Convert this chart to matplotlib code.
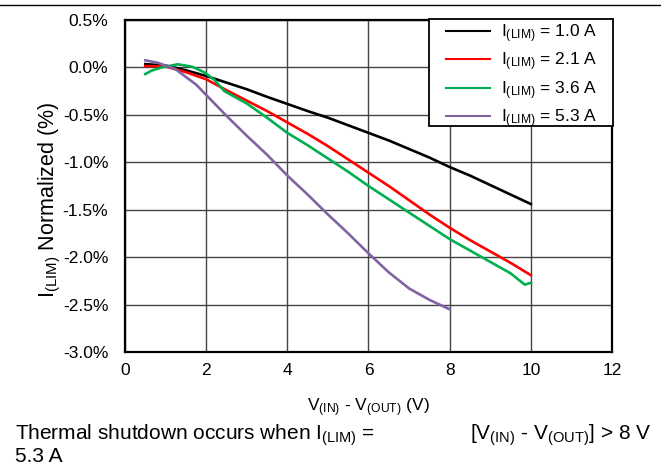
import numpy as np
import matplotlib
matplotlib.use("Agg")
import matplotlib.pyplot as plt
from matplotlib.lines import Line2D
from matplotlib.patches import Rectangle

plt.rcParams['font.family'] = ['Liberation Sans', 'DejaVu Sans']
plt.rcParams['mathtext.fontset'] = 'custom'
plt.rcParams['mathtext.rm'] = 'Liberation Sans'
plt.rcParams['mathtext.default'] = 'regular'

# data
x_1a0 = [0.5, 1.0, 1.5, 2.0, 2.5, 3.0, 3.5, 4.0, 4.5, 5.0, 5.5, 6.0, 6.5, 7.0, 7.5, 8.0, 8.5, 9.0, 9.5, 10.0]
y_1a0 = [0.035, 0.02, -0.03, -0.09, -0.16, -0.23, -0.31, -0.385, -0.46, -0.53, -0.61, -0.69, -0.77, -0.86, -0.95, -1.05, -1.14, -1.24, -1.34, -1.44]

x_2a1 = [0.5, 1.0, 1.5, 2.0, 2.5, 3.0, 3.5, 4.0, 4.5, 5.0, 5.5, 6.0, 6.5, 7.0, 7.5, 8.0, 8.5, 9.0, 9.5, 10.0]
y_2a1 = [0.015, 0.01, -0.05, -0.125, -0.24, -0.35, -0.46, -0.58, -0.70, -0.83, -0.97, -1.11, -1.25, -1.40, -1.55, -1.69, -1.82, -1.94, -2.06, -2.19]

x_3a6 = [0.5, 0.65, 0.9, 1.3, 1.65, 1.95, 2.2, 2.45, 2.7, 3.0, 3.5, 4.0, 4.5, 5.0, 5.5, 6.0, 6.5, 7.0, 7.5, 8.0, 8.5, 9.0, 9.5, 9.85, 10.0]
y_3a6 = [-0.07, -0.035, 0.0, 0.033, 0.008, -0.05, -0.13, -0.25, -0.31, -0.38, -0.53, -0.69, -0.82, -0.96, -1.10, -1.25, -1.39, -1.53, -1.67, -1.81, -1.93, -2.05, -2.17, -2.29, -2.27]

x_5a3 = [0.5, 0.8, 1.0, 1.25, 1.5, 1.75, 2.0, 2.5, 3.0, 3.5, 4.0, 4.5, 5.0, 5.5, 6.0, 6.5, 7.0, 7.5, 8.0]
y_5a3 = [0.075, 0.05, 0.02, -0.02, -0.10, -0.18, -0.29, -0.51, -0.72, -0.92, -1.14, -1.34, -1.55, -1.75, -1.96, -2.16, -2.33, -2.45, -2.55]

series = [
    (x_1a0, y_1a0, 'black', 'I$_{(LIM)}$ = 1.0 A'),
    (x_2a1, y_2a1, '#FF0000', 'I$_{(LIM)}$ = 2.1 A'),
    (x_3a6, y_3a6, '#00B050', 'I$_{(LIM)}$ = 3.6 A'),
    (x_5a3, y_5a3, '#8064A2', 'I$_{(LIM)}$ = 5.3 A'),
]

x_ticks = [0, 2, 4, 6, 8, 10, 12]
y_ticks = [0.5, 0.0, -0.5, -1.0, -1.5, -2.0, -2.5, -3.0]
y_tick_labels = ['0.5%', '0.0%', '-0.5%', '-1.0%', '-1.5%', '-2.0%', '-2.5%', '-3.0%']

W, H = 661, 466
fig = plt.figure(figsize=(W / 100, H / 100), dpi=100)
ax = fig.add_axes([125 / W, 1 - 352 / H, (612 - 125) / W, (352 - 20) / H])

for xs, ys, c, lab in series:
    ax.plot(xs, ys, color=c, lw=1.9, label=lab, zorder=3)

ax.set_xlim(0, 12)
ax.set_ylim(-3.0, 0.5)
ax.set_xticks(x_ticks)
ax.set_yticks(y_ticks)
ax.set_yticklabels(y_tick_labels)
ax.tick_params(length=0, labelsize=12.5)
ax.tick_params(axis='x', pad=8)
ax.tick_params(axis='y', pad=12)
ax.grid(True, color='#444444', lw=1.0)
ax.set_axisbelow(True)
for sp in ax.spines.values():
    sp.set_linewidth(1.6)
    sp.set_color('black')

ax.set_xlabel('V$_{(IN)}$ - V$_{(OUT)}$ (V)', fontsize=12.5)
ax.xaxis.set_label_coords(0.5, -0.135)
ax.set_ylabel('I$_{(LIM)}$ Normalized (%)', fontsize=15.5)
ax.yaxis.set_label_coords(-0.128, 0.46)

# legend box drawn by hand so the padding matches the reference
box = Rectangle((429 / W, 1 - 126 / H), (613 - 429) / W, (126 - 19) / H,
                transform=fig.transFigure, facecolor='white', edgecolor='black',
                lw=1.3, zorder=4, clip_on=False)
ax.add_patch(box)
leg = ax.legend(loc='upper left', bbox_to_anchor=(446 / W, 1 - 22 / H),
                bbox_transform=fig.transFigure, fontsize=12.5, frameon=False,
                borderaxespad=0, borderpad=0, handlelength=2.55, handletextpad=0.62,
                labelspacing=0.34)
leg.set_zorder(5)
for h in leg.get_lines():
    h.set_linewidth(1.5)

fig.add_artist(Line2D([0, 1], [1 - 5 / H, 1 - 5 / H], color='black', lw=1.0))

fig.text(15 / W, 1 - 440 / H, 'Thermal shutdown occurs when I$_{(LIM)}$ =', fontsize=15, va='baseline')
fig.text(15 / W, 1 - 462 / H, '5.3 A', fontsize=15, va='baseline')
fig.text(651 / W, 1 - 440 / H, '[V$_{(IN)}$ - V$_{(OUT)}$] > 8 V', fontsize=15, va='baseline', ha='right')

fig.savefig('out.png', dpi=100)
